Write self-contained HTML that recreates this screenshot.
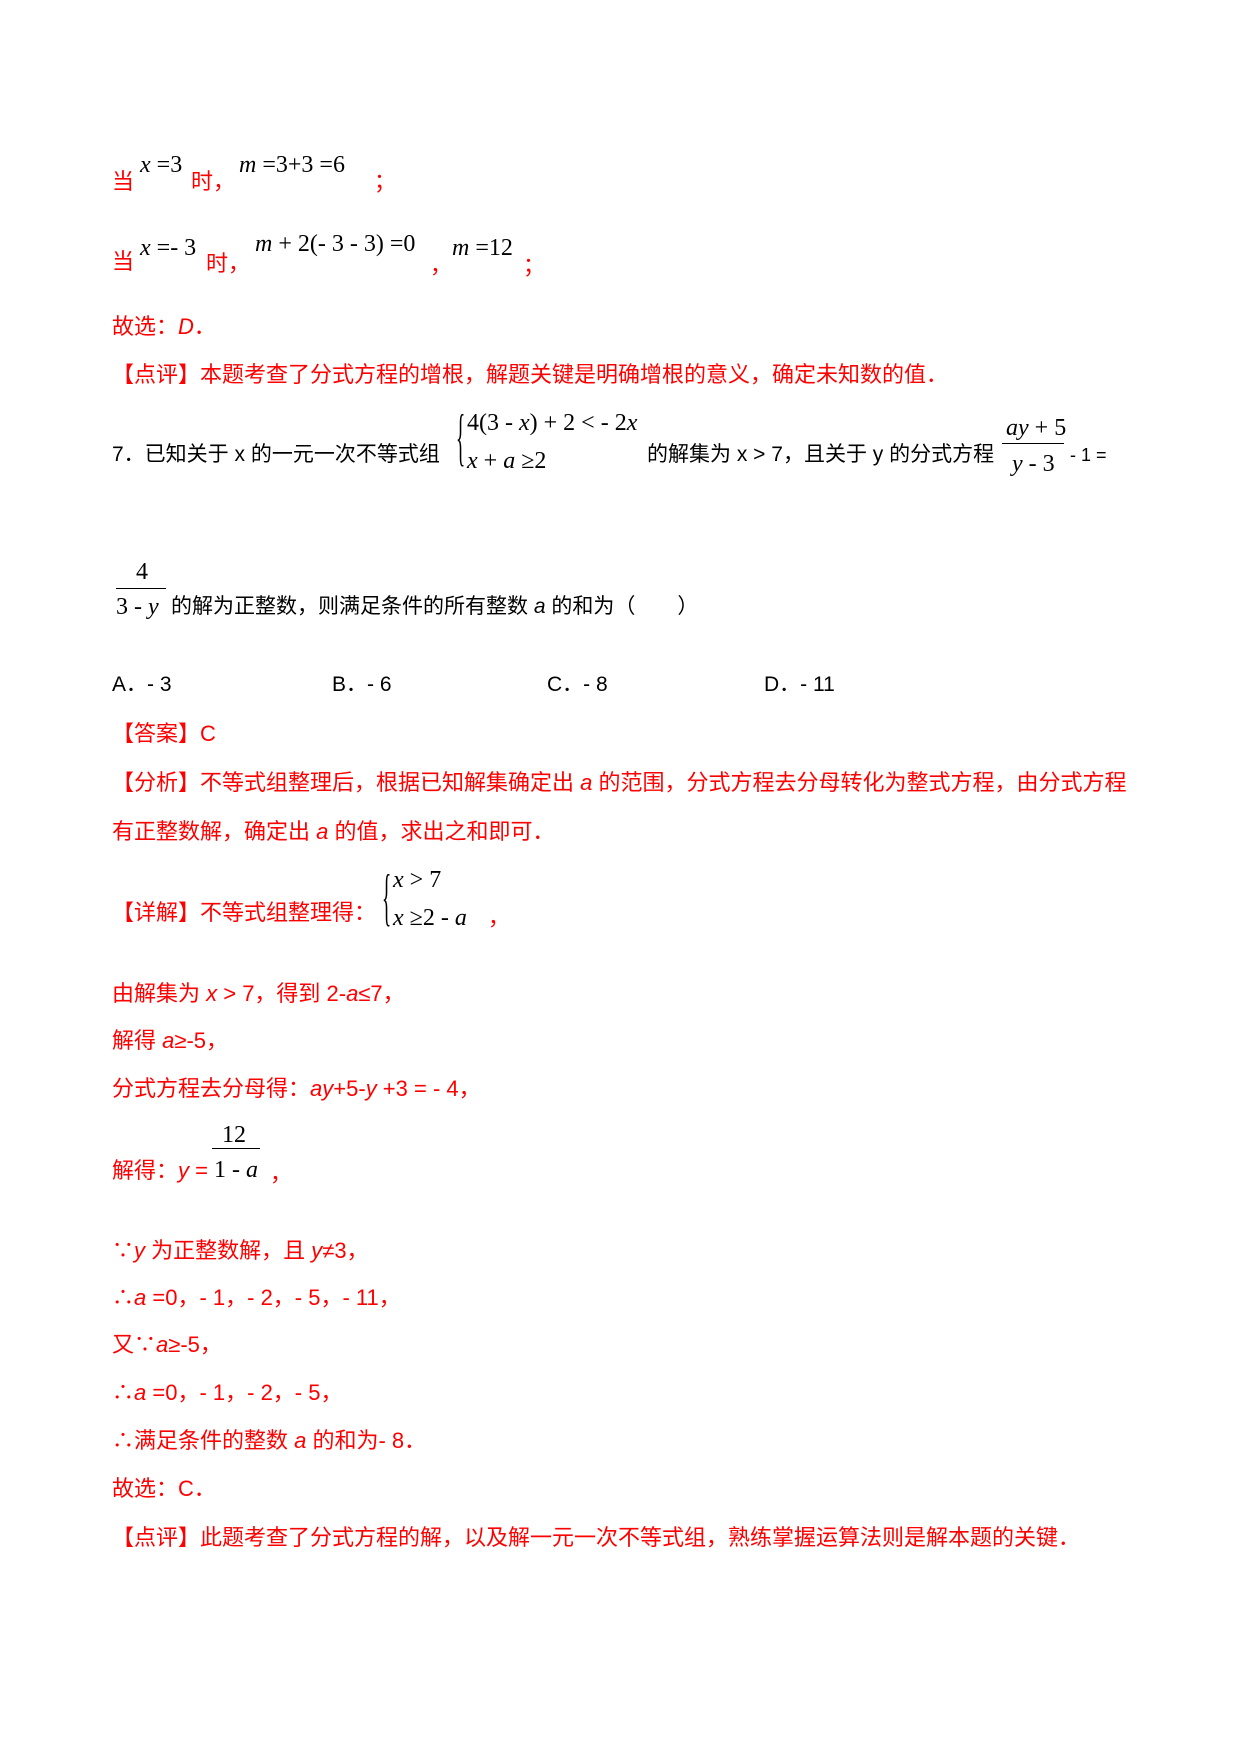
<!DOCTYPE html>
<html><head><meta charset="utf-8"><style>
body{margin:0;width:1240px;height:1754px;background:#fff;position:relative;font-family:"Liberation Sans","Noto Sans CJK SC",sans-serif;font-size:22px;}
.t{position:absolute;white-space:nowrap;line-height:24px;}
.k{font-size:21px;}
.r{color:#f00;}
.m{font-family:"Liberation Serif",serif;font-size:24px;color:#000;}
i{font-style:italic;}
.ln{position:absolute;height:1px;background:#000;}
.br{position:absolute;font-family:"Liberation Serif",serif;color:#000;transform-origin:left top;}
</style></head><body>
<div class="t r" style="left:112px;top:170px">当</div>
<div class="t m" style="left:140px;top:153px"><i>x</i> =3</div>
<div class="t r" style="left:191px;top:170px">时，</div>
<div class="t m" style="left:239px;top:153px"><i>m</i> =3+3 =6</div>
<div class="t r" style="left:374px;top:170px">；</div>

<div class="t r" style="left:112px;top:250px">当</div>
<div class="t m" style="left:140px;top:236px"><i>x</i> =- 3</div>
<div class="t r" style="left:206px;top:252px">时，</div>
<div class="t m" style="left:255px;top:232px"><i>m</i> + 2(- 3 - 3) =0</div>
<div class="t r" style="left:430px;top:254px">，</div>
<div class="t m" style="left:452px;top:236px"><i>m</i> =12</div>
<div class="t r" style="left:523px;top:254px">；</div>

<div class="t r" style="left:112px;top:315px">故选：<i>D</i>．</div>
<div class="t r" style="left:112px;top:363px">【点评】本题考查了分式方程的增根，解题关键是明确增根的意义，确定未知数的值．</div>

<div class="t k" style="left:112px;top:443px">7．已知关于 x 的一元一次不等式组</div>
<div class="br" style="left:456px;top:400px;font-size:32px;transform:scale(0.6,2);">{</div>
<div class="t m" style="left:467px;top:411px">4(3 - <i>x</i>) + 2 &lt; - 2<i>x</i></div>
<div class="t m" style="left:467px;top:449px"><i>x</i> + <i>a</i> ≥2</div>
<div class="t k" style="left:647px;top:443px">的解集为 x &gt; 7，且关于 y 的分式方程</div>
<div class="t m" style="left:1006px;top:416px"><i>ay</i> + 5</div>
<div class="ln" style="left:1002px;top:443px;width:62px"></div>
<div class="t m" style="left:1012px;top:452px"><i>y</i> - 3</div>
<div class="t" style="left:1070px;top:443px;font-size:18px">- 1 =</div>

<div class="t m" style="left:136px;top:560px">4</div>
<div class="ln" style="left:116px;top:588px;width:50px"></div>
<div class="t m" style="left:116px;top:595px">3 - <i>y</i></div>
<div class="t k" style="left:171px;top:595px">的解为正整数，则满足条件的所有整数 <i>a</i> 的和为（　　）</div>

<div class="t k" style="left:112px;top:673px">A．- 3</div>
<div class="t k" style="left:332px;top:673px">B．- 6</div>
<div class="t k" style="left:547px;top:673px">C．- 8</div>
<div class="t k" style="left:764px;top:673px">D．- 11</div>

<div class="t r" style="left:112px;top:722px">【答案】C</div>
<div class="t r" style="left:112px;top:771px">【分析】不等式组整理后，根据已知解集确定出 <i>a</i> 的范围，分式方程去分母转化为整式方程，由分式方程</div>
<div class="t r" style="left:112px;top:820px">有正整数解，确定出 <i>a</i> 的值，求出之和即可．</div>

<div class="t r" style="left:112px;top:901px">【详解】不等式组整理得：</div>
<div class="br" style="left:382px;top:860px;font-size:32px;transform:scale(0.6,2);">{</div>
<div class="t m" style="left:393px;top:868px"><i>x</i> &gt; 7</div>
<div class="t m" style="left:393px;top:906px"><i>x</i> ≥2 - <i>a</i></div>
<div class="t r" style="left:488px;top:906px">，</div>

<div class="t r" style="left:112px;top:982px">由解集为 <i>x</i> &gt; 7，得到 2-<i>a</i>≤7，</div>
<div class="t r" style="left:112px;top:1029px">解得 <i>a</i>≥-5，</div>
<div class="t r" style="left:112px;top:1077px">分式方程去分母得：<i>ay</i>+5-<i>y</i> +3 = - 4，</div>
<div class="t m" style="left:222px;top:1123px">12</div>
<div class="ln" style="left:212px;top:1148px;width:48px"></div>
<div class="t m" style="left:214px;top:1158px">1 - <i>a</i></div>
<div class="t r" style="left:112px;top:1159px">解得：<i>y</i> =</div>
<div class="t r" style="left:270px;top:1162px">，</div>

<div class="t r" style="left:112px;top:1239px">∵<i>y</i> 为正整数解，且 <i>y</i>≠3，</div>
<div class="t r" style="left:112px;top:1286px">∴<i>a</i> =0，- 1，- 2，- 5，- 11，</div>
<div class="t r" style="left:112px;top:1333px">又∵<i>a</i>≥-5，</div>
<div class="t r" style="left:112px;top:1381px">∴<i>a</i> =0，- 1，- 2，- 5，</div>
<div class="t r" style="left:112px;top:1429px">∴满足条件的整数 <i>a</i> 的和为- 8．</div>
<div class="t r" style="left:112px;top:1477px">故选：C．</div>
<div class="t r" style="left:112px;top:1526px">【点评】此题考查了分式方程的解，以及解一元一次不等式组，熟练掌握运算法则是解本题的关键．</div>
</body></html>
